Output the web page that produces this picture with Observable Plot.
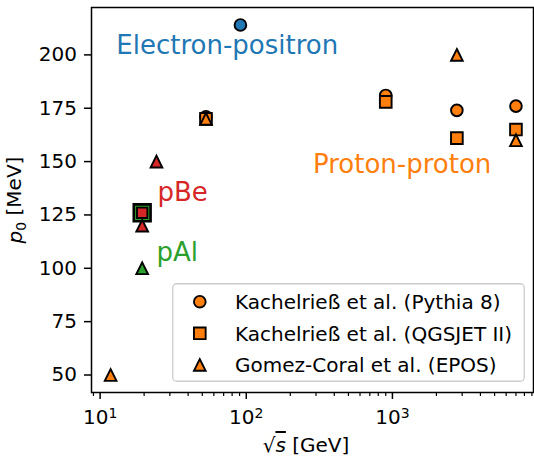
<!DOCTYPE html>
<html><head><meta charset="utf-8">
<script src="https://cdn.jsdelivr.net/npm/d3@7"></script>
<script src="https://cdn.jsdelivr.net/npm/@observablehq/plot@0.6"></script>
<style>
body{margin:0;background:#fff;overflow:hidden;}
#wrap{position:relative;width:534px;height:456px;font-family:"DejaVu Sans";}
</style></head><body><div id="wrap"></div>
<script>
// ---- data (sqrt(s) in GeV, p0 in MeV) ----
const eeEnergy = [91.2];
const eeP0 = [214];
const ppEnergy = [53, 900, 2760, 7000];
const pythiaP0 = [171, 181, 174, 176];
const qgsjetP0 = [170, 178, 161, 165];
const eposEnergy = [11.8, 53, 2760, 7000];
const eposP0 = [50, 170, 200, 160];
const pAlSquareEnergy = [19.4];
const pAlSquareP0 = [126];
const pBeSquareEnergy = [19.4];
const pBeSquareP0 = [126];
const pBeTriEnergy = [19.4, 24.3];
const pBeTriP0 = [120, 150];
const pAlTriEnergy = [19.4];
const pAlTriP0 = [100];

const annText = ["Electron-positron", "Proton-proton", "pBe", "pAl"];
const annX = [12.9, 286, 24.7, 24.3];
const annY = [200.3, 144.7, 131.3, 103.5];
const annColor = ["#1f77b4", "#ff7f0e", "#d62728", "#2ca02c"];

const xMajor = [10, 100, 1000];
const xMajorLabels = ["10^1", "10^2", "10^3"];
const xMinor = [9, 20, 30, 40, 50, 60, 70, 80, 90, 200, 300, 400, 500, 600, 700, 800, 900,
                2000, 3000, 4000, 5000, 6000, 7000, 8000, 9000];
const yTicks = [50, 75, 100, 125, 150, 175, 200];

const legendLabels = ["Kachelrieß et al. (Pythia 8)", "Kachelrieß et al. (QGSJET II)", "Gomez-Coral et al. (EPOS)"];

// ---- matplotlib-like marker symbols ----
const half = size => Math.sqrt(size / Math.PI);
const mplCircle = {draw(c, size) { const r = half(size); c.moveTo(r, 0); c.arc(0, 0, r, 0, 2 * Math.PI); c.closePath(); }};
const mplSquare = {draw(c, size) { const r = half(size); c.moveTo(-r, -r); c.lineTo(r, -r); c.lineTo(r, r); c.lineTo(-r, r); c.closePath(); }};
const mplTriangle = {draw(c, size) { const r = half(size); c.moveTo(0, -r); c.lineTo(r, r); c.lineTo(-r, r); c.closePath(); }};

const pts = (xs, ys) => xs.map((x, i) => ({x, y: ys[i]}));
const ORANGE = "#ff7f0e", BLUE = "#1f77b4", GREEN = "#2ca02c", RED = "#d62728";
const R = 5.85, SW = 1.9;
const FS = 20;

const ann = annText.map((t, i) => ({t, x: annX[i], y: annY[i], c: annColor[i]}));

const chart = Plot.plot({
  width: 534, height: 456,
  marginLeft: 91, marginRight: 1, marginTop: 7, marginBottom: 64,
  style: {fontFamily: "DejaVu Sans", fontSize: FS + "px", background: "white", color: "black", overflow: "visible"},
  x: {type: "log", domain: [8.73, 9230]},
  y: {domain: [41.8, 222.2]},
  color: {type: "identity"},
  marks: [
    Plot.frame({stroke: "black", strokeWidth: 1.5}),
    Plot.axisY({ticks: yTicks, tickSize: 7, tickPadding: 7.5, strokeWidth: 1.5, label: null, fontSize: FS}),
    Plot.axisX({ticks: xMajor, tickFormat: d => xMajorLabels[xMajor.indexOf(d)], tickSize: 7, tickPadding: 10, strokeWidth: 1.5, label: null, fontSize: FS}),
    Plot.axisX({ticks: xMinor, tickFormat: () => "", tickSize: 4, strokeWidth: 1.2, label: null}),
    Plot.dot(pts(eeEnergy, eeP0), {x: "x", y: "y", symbol: mplCircle, r: R, fill: BLUE, stroke: "black", strokeWidth: SW}),
    Plot.dot(pts(ppEnergy, pythiaP0), {x: "x", y: "y", symbol: mplCircle, r: R, fill: ORANGE, stroke: "black", strokeWidth: SW}),
    Plot.dot(pts(ppEnergy, qgsjetP0), {x: "x", y: "y", symbol: mplSquare, r: R, fill: ORANGE, stroke: "black", strokeWidth: SW}),
    Plot.dot(pts(eposEnergy, eposP0), {x: "x", y: "y", symbol: mplTriangle, r: R, fill: ORANGE, stroke: "black", strokeWidth: SW}),
    Plot.dot(pts(pAlSquareEnergy, pAlSquareP0), {x: "x", y: "y", symbol: mplSquare, r: 8.4, fill: GREEN, stroke: "black", strokeWidth: 2.6}),
    Plot.dot(pts(pBeSquareEnergy, pBeSquareP0), {x: "x", y: "y", symbol: mplSquare, r: 5.2, fill: RED, stroke: "black", strokeWidth: SW}),
    Plot.dot(pts(pBeTriEnergy, pBeTriP0), {x: "x", y: "y", symbol: mplTriangle, r: R, fill: RED, stroke: "black", strokeWidth: SW}),
    Plot.dot(pts(pAlTriEnergy, pAlTriP0), {x: "x", y: "y", symbol: mplTriangle, r: R, fill: GREEN, stroke: "black", strokeWidth: SW}),
    Plot.text(ann, {x: "x", y: "y", text: "t", fill: "c", fontSize: 26, textAnchor: "start", lineAnchor: "bottom", fontFamily: "DejaVu Sans"})
  ]
});
document.getElementById("wrap").appendChild(chart);

// superscripts on log tick labels
const NS = "http://www.w3.org/2000/svg";
chart.querySelectorAll('[aria-label="x-axis tick label"] text').forEach(t => {
  const s = t.textContent;
  if (s.includes("^")) {
    const [b, e] = s.split("^");
    t.textContent = b;
    const ts = document.createElementNS(NS, "tspan");
    ts.setAttribute("dy", "-0.42em");
    ts.setAttribute("font-size", "14px");
    ts.textContent = e;
    t.appendChild(ts);
  }
});

const svg = d3.select(chart);
// x label
const xl = svg.append("text").attr("x", 306).attr("y", 452).attr("text-anchor", "middle")
  .attr("font-size", FS + "px").attr("fill", "black");
xl.append("tspan").text("√");
xl.append("tspan").attr("font-style", "italic").style("text-decoration", "overline").text("s");
xl.append("tspan").text(" [GeV]");
// y label
const yl = svg.append("text").attr("transform", "translate(22.4,200) rotate(-90)").attr("text-anchor", "middle")
  .attr("font-size", FS + "px").attr("fill", "black");
yl.append("tspan").attr("font-style", "italic").text("p");
yl.append("tspan").attr("font-size", "14px").attr("dy", "0.25em").text("0");
yl.append("tspan").attr("dy", "-0.25em").text(" [MeV]");

// legend
const leg = d3.select("#wrap").append("svg")
  .style("position", "absolute").style("left", "172px").style("top", "283px")
  .attr("width", 354).attr("height", 100)
  .attr("font-family", "DejaVu Sans").attr("font-size", FS + "px");
leg.append("rect").attr("x", 0.75).attr("y", 0.75).attr("width", 351.5).attr("height", 97.5)
  .attr("rx", 4).attr("fill", "white").attr("fill-opacity", 0.8).attr("stroke", "#cccccc").attr("stroke-width", 1.3);
const legSyms = [mplCircle, mplSquare, mplTriangle];
legendLabels.forEach((lab, i) => {
  const cy = 18.7 + i * 31.6;
  const p = d3.path(); legSyms[i].draw(p, R * R * Math.PI);
  leg.append("path").attr("d", p.toString()).attr("transform", `translate(27.8,${cy})`)
    .attr("fill", ORANGE).attr("stroke", "black").attr("stroke-width", SW);
  leg.append("text").attr("x", 63).attr("y", cy).attr("dy", "0.36em").attr("fill", "black").text(lab);
});
</script></body></html>
